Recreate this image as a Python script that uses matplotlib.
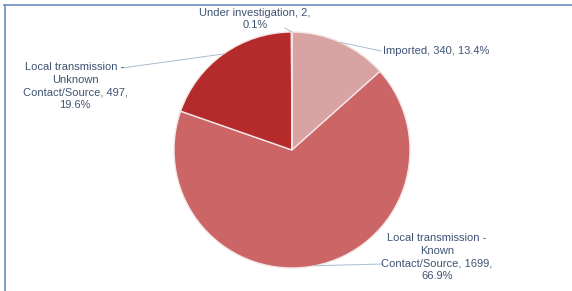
import matplotlib
matplotlib.use("Agg")
import matplotlib.pyplot as plt
import numpy as np
from matplotlib.lines import Line2D

categories = ["Imported", "Local transmission -\nKnown\nContact/Source",
              "Local transmission -\nUnknown\nContact/Source", "Under investigation"]
values = [340, 1699, 497, 2]
percents = ["13.4%", "66.9%", "19.6%", "0.1%"]
colors = ["#d9a3a3", "#cc6666", "#b52a2a", "#c23a3a"]

W, H = 572, 291
fig = plt.figure(figsize=(W / 100, H / 100), dpi=100)
fig.patch.set_facecolor("white")

cx, cy, r = 292, 150, 118
ax = fig.add_axes([(cx - r) / W, (H - cy - r) / H, 2 * r / W, 2 * r / H])

wedges, _ = ax.pie(values, colors=colors, startangle=90, counterclock=False,
                   radius=1, wedgeprops=dict(edgecolor="#f4e6e6", linewidth=1.0))
ax.set_xlim(-1, 1)
ax.set_ylim(-1, 1)
ax.set_aspect("auto")
ax.axis("off")

txt_color = "#3f5373"
line_color = "#a9bccf"

label_texts = [
    f"{categories[0]}, {values[0]}, {percents[0]}",
    f"Local transmission -\nKnown\nContact/Source, {values[1]},\n{percents[1]}",
    f"Local transmission -\nUnknown\nContact/Source, {values[2]},\n{percents[2]}",
    f"{categories[3]}, {values[3]},\n{percents[3]}",
]
text_pos = [((383, 51), "left", "center"),
            ((437, 257), "center", "center"),
            ((75, 86), "center", "center"),
            ((255, 19), "center", "center")]
line_ends = [(381, 51), (383, 264), (122, 68), (285, 28)]

for w, lab, (pos, ha, va), le in zip(wedges, label_texts, text_pos, line_ends):
    ang = np.deg2rad((w.theta1 + w.theta2) / 2)
    px = np.cos(ang)
    py = np.sin(ang)
    ex = (le[0] - cx) / r
    ey = (cy - le[1]) / r
    ax.plot([px, ex], [py, ey], color=line_color, lw=0.7, clip_on=False)
    fig.text(pos[0] / W, 1 - pos[1] / H, lab, ha=ha, va=va, fontsize=8,
             color=txt_color, linespacing=1.3, family="Liberation Sans")

bc = "#6d8cc4"
fig.add_artist(Line2D([4.5 / W, 4.5 / W], [0, 1 - 5 / H], color=bc, lw=1.2,
                      transform=fig.transFigure))
fig.add_artist(Line2D([4 / W, 1], [1 - 5 / H, 1 - 5 / H], color=bc, lw=1.2,
                      transform=fig.transFigure))

fig.savefig("out.png", dpi=100, facecolor="white")
